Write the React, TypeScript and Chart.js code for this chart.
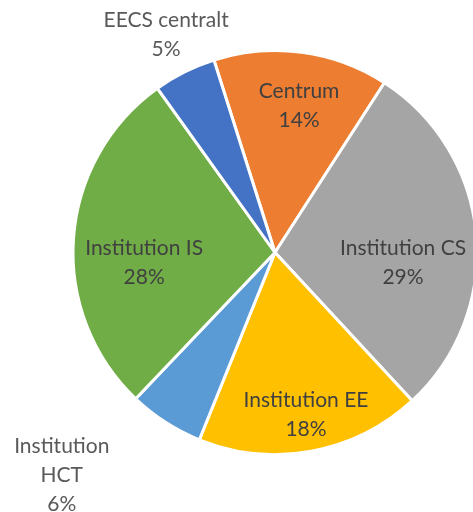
import React, { useEffect, useRef } from "react";
import { Chart, registerables } from "chart.js";

Chart.register(...registerables);

const categories = ["Centrum", "Institution CS", "Institution EE", "Institution HCT", "Institution IS", "EECS centralt"];
const shares = [14, 29, 18, 6, 28, 5];
const labelLines = [
  ["Centrum", "14%"],
  ["Institution CS", "29%"],
  ["Institution EE", "18%"],
  ["Institution", "HCT", "6%"],
  ["Institution IS", "28%"],
  ["EECS centralt", "5%"],
];
const colors = ["#ED7D31", "#A5A5A5", "#FFC000", "#5B9BD5", "#70AD47", "#4472C4"];

// label placement: angle offset from slice middle (deg), radial factor, outside?
const placement = [
  { dAng: 1.7, rf: 0.737, outside: false },
  { dAng: 9.7, rf: 0.636, outside: false },
  { dAng: -0.4, rf: 0.819, outside: false },
  { dAng: 11, rf: 1.525, outside: true },
  { dAng: -8.6, rf: 0.65, outside: false },
  { dAng: 0, rf: 1.204, outside: true },
];

const labelPlugin = {
  id: "sliceLabels",
  afterDatasetsDraw(chart: any) {
    const meta = chart.getDatasetMeta(0);
    const ctx = chart.ctx;
    ctx.save();
    ctx.font = "21px Lato";
    ctx.textAlign = "center";
    ctx.textBaseline = "middle";
    const lh = 29;
    meta.data.forEach((arc: any, i: number) => {
      const p = placement[i];
      const mid = (arc.startAngle + arc.endAngle) / 2 + (p.dAng * Math.PI) / 180;
      const r = arc.outerRadius * p.rf;
      const cx = arc.x + Math.cos(mid) * r;
      const cy = arc.y + Math.sin(mid) * r;
      const lines = labelLines[i];
      ctx.fillStyle = p.outside ? "#595959" : "#404040";
      const top = cy - ((lines.length - 1) * lh) / 2;
      lines.forEach((t, j) => ctx.fillText(t, cx, top + j * lh));
    });
    ctx.restore();
  },
};

export default function App() {
  const ref = useRef<HTMLCanvasElement>(null);
  useEffect(() => {
    document.body.style.margin = "0";
    const chart = new Chart(ref.current!, {
      type: "pie",
      data: {
        labels: categories,
        datasets: [
          {
            data: shares,
            backgroundColor: colors,
            borderColor: "#ffffff",
            borderWidth: 3,
            radius: 202,
            clip: false as any,
          },
        ],
      },
      options: {
        responsive: false,
        animation: false,
        rotation: -17.6,
        layout: { padding: { left: 77, right: 0, top: 0, bottom: 7 } },
        plugins: { legend: { display: false }, tooltip: { enabled: false } },
      },
      plugins: [labelPlugin],
    });
    return () => chart.destroy();
  }, []);
  return (
    <div style={{ width: 473, height: 512, background: "#fff" }}>
      <canvas ref={ref} width={473} height={512} />
    </div>
  );
}
